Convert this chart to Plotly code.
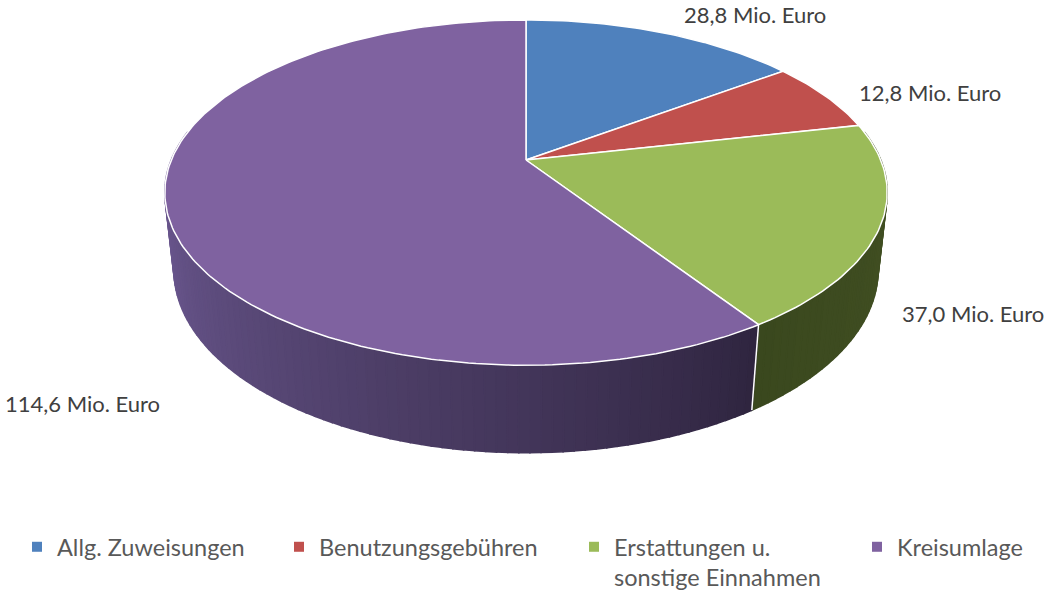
import math
import plotly.graph_objects as go

# ---------------- data ----------------
categories = ["Allg. Zuweisungen", "Benutzungsgebühren", "Erstattungen u.<br>sonstige Einnahmen", "Kreisumlage"]
values = [28.8, 12.8, 37.0, 114.6]
unit = "Mio. Euro"

# ---------------- style / layout ----------------
top_colors = [(79, 129, 189), (192, 80, 77), (155, 187, 89), (127, 98, 160)]
wall_light = [(79, 129, 189), (192, 80, 77), (66, 80, 35), (112, 92, 150)]
wall_dark = [(40, 64, 95), (96, 40, 38), (58, 72, 30), (46, 36, 62)]
label_pos = [(682, 14), (857, 92), (900, 313), (3, 403)]   # left edge, vertical centre
legend_x = [17, 279, 574, 857]

W, H = 1044, 594
CX, CY = 526, 160          # projected centre of the pie top
PHI = math.radians(28)     # elevation of the view
DIST = 4.68                # camera distance (in pie radii)
FOC = 1660                 # focal length (px)
DEPTH = 0.25               # pie thickness (in pie radii)


def proj(theta_deg, r=1.0, y=0.0):
    t = math.radians(theta_deg)
    x = r * math.sin(t)
    z = -r * math.cos(t)
    d = DIST - y * math.sin(PHI) - z * math.cos(PHI)
    u = x * FOC / d
    v = (y * math.cos(PHI) - z * math.sin(PHI)) * FOC / d
    return CX + u, CY - v, d


def rgb(c):
    return "rgb(%d,%d,%d)" % tuple(int(round(v)) for v in c)


total = sum(values)
bounds = [0.0]
for v in values:
    bounds.append(bounds[-1] + v / total * 360.0)

fig = go.Figure()

# ---------------- side walls (painter's order) ----------------
strips = []
for i in range(len(values)):
    a0, a1 = bounds[i], bounds[i + 1]
    lo, hi = max(a0, 80.0), min(a1, 280.0)
    if hi <= lo:
        continue
    n = max(2, int((hi - lo) / 1.5))
    for k in range(n):
        t0 = lo + (hi - lo) * k / n
        t1 = lo + (hi - lo) * (k + 1) / n
        tm = (t0 + t1) / 2
        s = (tm - 146.0) / (270.0 - 146.0)
        if i == 2:
            s = (146.4 - tm) / (146.4 - 95.0)
        s = min(max(s, 0.0), 1.0) ** 0.9
        col = [wall_dark[i][c] + (wall_light[i][c] - wall_dark[i][c]) * s for c in range(3)]
        p = [proj(t0), proj(t1), proj(t1, y=-DEPTH), proj(t0, y=-DEPTH)]
        depth = sum(q[2] for q in p) / 4
        strips.append((depth, p, rgb(col)))

strips.sort(key=lambda s: -s[0])
for depth, p, col in strips:
    xs = [q[0] for q in p] + [p[0][0]]
    ys = [q[1] for q in p] + [p[0][1]]
    fig.add_trace(go.Scatter(x=xs, y=ys, mode="lines", fill="toself", fillcolor=col,
                             line=dict(color=col, width=1.6), showlegend=False,
                             hoverinfo="skip"))

# seam lines on the visible wall
for b in bounds:
    bb = b % 360
    if 98 < bb < 262:
        p0, p1 = proj(bb), proj(bb, y=-DEPTH)
        fig.add_trace(go.Scatter(x=[p0[0], p1[0]], y=[p0[1], p1[1]], mode="lines",
                                 line=dict(color="white", width=1.5), showlegend=False,
                                 hoverinfo="skip"))

# ---------------- top faces ----------------
for i in range(len(values)):
    a0, a1 = bounds[i], bounds[i + 1]
    n = max(4, int((a1 - a0) / 1.0))
    xs, ys = [CX], [CY]
    for k in range(n + 1):
        px, py, _ = proj(a0 + (a1 - a0) * k / n)
        xs.append(px)
        ys.append(py)
    xs.append(CX)
    ys.append(CY)
    fig.add_trace(go.Scatter(x=xs, y=ys, mode="lines", fill="toself",
                             fillcolor=rgb(top_colors[i]),
                             line=dict(color="white", width=1.5), showlegend=False,
                             hoverinfo="skip"))

# ---------------- data labels ----------------
for v, (lx, ly) in zip(values, label_pos):
    txt = ("%.1f" % v).replace(".", ",") + " " + unit
    fig.add_annotation(x=lx, y=ly, text=txt, showarrow=False, xanchor="left",
                       font=dict(family="Lato", size=22, color="#404040"))

# ---------------- legend entries (one legend box per entry) ----------------
legend_names = ["legend", "legend2", "legend3", "legend4"]
legend_layout = {}
for name, c, lg, lx in zip(categories, top_colors, legend_names, legend_x):
    fig.add_trace(go.Scatter(x=[None], y=[None], mode="markers", name=name, legend=lg,
                             marker=dict(symbol="square", size=10, color=rgb(c))))
    legend_layout[lg] = dict(x=lx / W, y=1 - 525 / H, xanchor="left", yanchor="top",
                             orientation="v", valign="top", bgcolor="rgba(0,0,0,0)",
                             font=dict(family="Lato", size=23.5, color="#595959"))

fig.update_layout(
    width=W, height=H,
    margin=dict(l=0, r=0, t=0, b=0, autoexpand=False),
    paper_bgcolor="white", plot_bgcolor="white",
    xaxis=dict(range=[0, W], visible=False, fixedrange=True),
    yaxis=dict(range=[H, 0], visible=False, fixedrange=True),
    hovermode=False,
    font=dict(family="Lato", size=18, color="#595959"),
    **legend_layout,
)

fig.write_html("out.html", config={"displayModeBar": False},
               post_script="document.body.style.margin='0';")
